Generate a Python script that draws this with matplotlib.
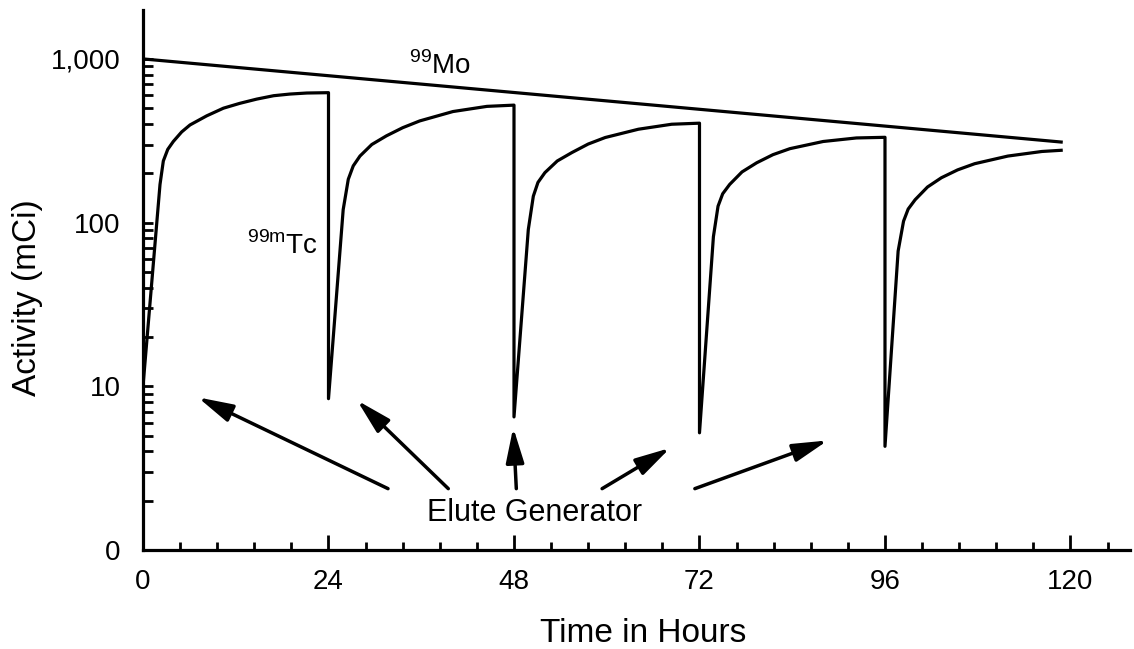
import matplotlib
matplotlib.use("Agg")
import matplotlib.pyplot as plt
from matplotlib.ticker import FixedLocator, LogLocator, NullFormatter, MultipleLocator

plt.rcParams['font.family'] = ['Liberation Sans', 'DejaVu Sans']

# ---- data ----
mo_hours = [0, 119]
mo_activity = [1000, 310]

tc_hours = [0, 2.2, 2.63, 3.2, 3.92, 5.0, 6.08, 8.24, 10.4, 12.5, 14.7, 16.9, 19.0, 21.2, 24,
            24, 25.9, 26.56, 27.2, 28.07, 29.6, 31.5, 33.6, 35.8, 40.1, 44.5, 48,
            48, 49.85, 50.5, 51.1, 52.0, 53.6, 55.5, 57.6, 59.8, 64.1, 68.4, 72,
            72, 73.8, 74.4, 75.0, 75.9, 77.5, 79.4, 81.5, 83.7, 88.0, 92.3, 96,
            96, 97.7, 98.4, 99.0, 99.9, 101.5, 103.3, 105.4, 107.6, 111.9, 116.3, 119]
tc_activity = [10, 171, 238, 280, 313, 358, 395, 449, 500, 535, 568, 596, 610, 619, 622,
               8.4, 120, 184, 222, 255, 300, 339, 380, 418, 477, 513, 522,
               6.5, 90.6, 145, 176, 202, 238, 268, 302, 331, 372, 399, 405,
               5.2, 82, 126, 150, 171, 204, 232, 260, 283, 313, 329, 332,
               4.3, 67, 102, 121, 138, 165, 188, 210, 229, 255, 272, 277]

# arrows: tail (hours, activity) -> tip (hours, activity)
arrow_tail_h = [31.7, 39.5, 48.3, 59.4, 71.4]
arrow_tail_a = [2.37, 2.37, 2.37, 2.37, 2.37]
arrow_tip_h = [7.1, 27.7, 47.9, 68.2, 88.6]
arrow_tip_a = [8.56, 8.2, 5.6, 4.2, 4.67]

y_ticks = [1, 10, 100, 1000]
y_tick_labels = ['0', '10', '100', '1,000']
x_ticks = [0, 24, 48, 72, 96, 120]

# ---- figure ----
fig = plt.figure(figsize=(11.34, 6.49), dpi=100)
ax = fig.add_axes([143 / 1134, 1 - 550 / 649, (1130 - 143) / 1134, (550 - 10) / 649])

lw = 2.3
ax.plot(mo_hours, mo_activity, color='black', lw=lw, solid_capstyle='butt')
ax.plot(tc_hours, tc_activity, color='black', lw=lw, solid_capstyle='butt')

ax.set_yscale('log')
ax.set_xlim(0, 127.7)
ax.set_ylim(1, 1990)

ax.yaxis.set_major_locator(FixedLocator(y_ticks))
ax.set_yticklabels(y_tick_labels)
ax.yaxis.set_minor_locator(LogLocator(base=10, subs=[2, 3, 4, 5, 6, 7, 8, 9]))
ax.yaxis.set_minor_formatter(NullFormatter())
ax.xaxis.set_major_locator(FixedLocator(x_ticks))
ax.xaxis.set_minor_locator(MultipleLocator(4.8))

for s in ['top', 'right']:
    ax.spines[s].set_visible(False)
for s in ['left', 'bottom']:
    ax.spines[s].set_linewidth(2.3)

ax.tick_params(axis='both', which='both', direction='in', width=2.0, color='black',
               labelsize=20)
ax.tick_params(axis='y', which='both', length=7.2, pad=16)
ax.tick_params(axis='x', which='major', length=11, pad=14)
ax.tick_params(axis='x', which='minor', length=6)

ax.set_xlabel('Time in Hours', fontsize=24, va='center')
ax.xaxis.set_label_coords((643 - 143) / 987, (550 - 633) / 540)
ax.set_ylabel('Activity (mCi)', fontsize=24, va='center')
ax.yaxis.set_label_coords((28 - 143) / 987, (550 - 298) / 540)

# labels
ax.text(34.4, 906, r'$^{\mathregular{99}}$Mo', fontsize=20, ha='left', va='center')
ax.text(13.5, 72, r'$^{\mathregular{99m}}$Tc', fontsize=20, ha='left', va='center')
ax.text(50.6, 1.69, 'Elute Generator', fontsize=22, ha='center', va='center')

for th, ta, hh, ha_ in zip(arrow_tail_h, arrow_tail_a, arrow_tip_h, arrow_tip_a):
    ax.annotate('', xy=(hh, ha_), xytext=(th, ta),
                arrowprops=dict(arrowstyle='-|>,head_length=0.85,head_width=0.22',
                                mutation_scale=25, lw=2.5, color='black',
                                shrinkA=0, shrinkB=0))

fig.savefig('out.png', dpi=100)
